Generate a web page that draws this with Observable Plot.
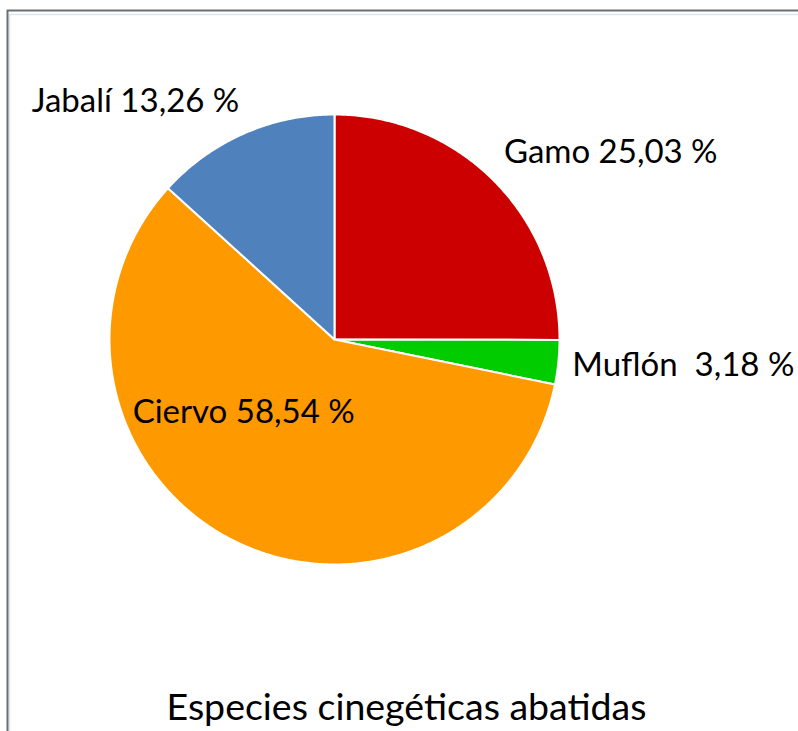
<!DOCTYPE html>
<html>
<head>
<meta charset="utf-8">
<script src="https://cdn.jsdelivr.net/npm/d3@7"></script>
<script src="https://cdn.jsdelivr.net/npm/@observablehq/plot@0.6"></script>
<style>
  html, body { margin: 0; padding: 0; background: white; overflow: hidden; }
</style>
</head>
<body>
<div id="chart"></div>
<script>
// Data
const species = ["Gamo", "Muflón", "Ciervo", "Jabalí"];
const shares = [25.03, 3.18, 58.54, 13.26];
const shareLabels = ["25,03 %", "3,18 %", "58,54 %", "13,26 %"];
const colors = ["#CC0000", "#00CC00", "#FF9900", "#4F81BD"];
const title = "Especies cinegéticas abatidas";

// Layout (pixels)
const W = 798, H = 731;
const cx = 334, cy = 339, R = 225;
// label offsets from the slice's outer mid-point, in pixels
const labelOffsets = [[117, -28], [125, 3], [11, -128], [-108, -32]];
const labelSeparators = [" ", "  ", " ", " "];

const pie = d3.pie().sort(null).value(d => d.value);
const rows = species.map((name, i) => ({name, value: shares[i], label: name + labelSeparators[i] + shareLabels[i]}));
const arcs = pie(rows);

// polygon outline of each slice in unit-radius coordinates (y up)
const pts = [];
arcs.forEach(a => {
  const name = a.data.name;
  pts.push({name, x: 0, y: 0});
  const n = Math.max(2, Math.ceil((a.endAngle - a.startAngle) / (Math.PI / 360)));
  for (let k = 0; k <= n; k++) {
    const t = a.startAngle + (a.endAngle - a.startAngle) * k / n;
    pts.push({name, x: Math.sin(t), y: Math.cos(t)});
  }
});

const labels = arcs.map((a, i) => {
  const m = (a.startAngle + a.endAngle) / 2;
  return {
    label: a.data.label,
    x: Math.sin(m) + labelOffsets[i][0] / R,
    y: Math.cos(m) - labelOffsets[i][1] / R
  };
});

const chart = Plot.plot({
  width: W,
  height: H,
  margin: 0,
  x: {domain: [-cx / R, (W - cx) / R], axis: null},
  y: {domain: [(cy - H) / R, cy / R], axis: null},
  color: {domain: species, range: colors},
  style: {background: "white", fontFamily: "Lato, 'Open Sans', sans-serif"},
  marks: [
    Plot.frame({stroke: "#dce6f2", strokeWidth: 1.5, insetLeft: 9, insetTop: 14, insetRight: -5, insetBottom: -5}),
    Plot.frame({stroke: "#6e6e6e", strokeWidth: 2, insetLeft: 7, insetTop: 10, insetRight: -5, insetBottom: -5}),
    Plot.line(pts, {x: "x", y: "y", z: "name", fill: "name", stroke: "white", strokeWidth: 2, curve: "linear-closed", strokeLinejoin: "round"}),
    Plot.text(labels, {x: "x", y: "y", text: "label", fontSize: 33, fill: "black", textAnchor: "middle", lineAnchor: "middle"}),
    Plot.text([title], {frameAnchor: "bottom", text: d => d, dx: 7, dy: -24, lineAnchor: "middle", fontSize: 37.5, fill: "black"})
  ]
});
document.getElementById("chart").appendChild(chart);
</script>
</body>
</html>
